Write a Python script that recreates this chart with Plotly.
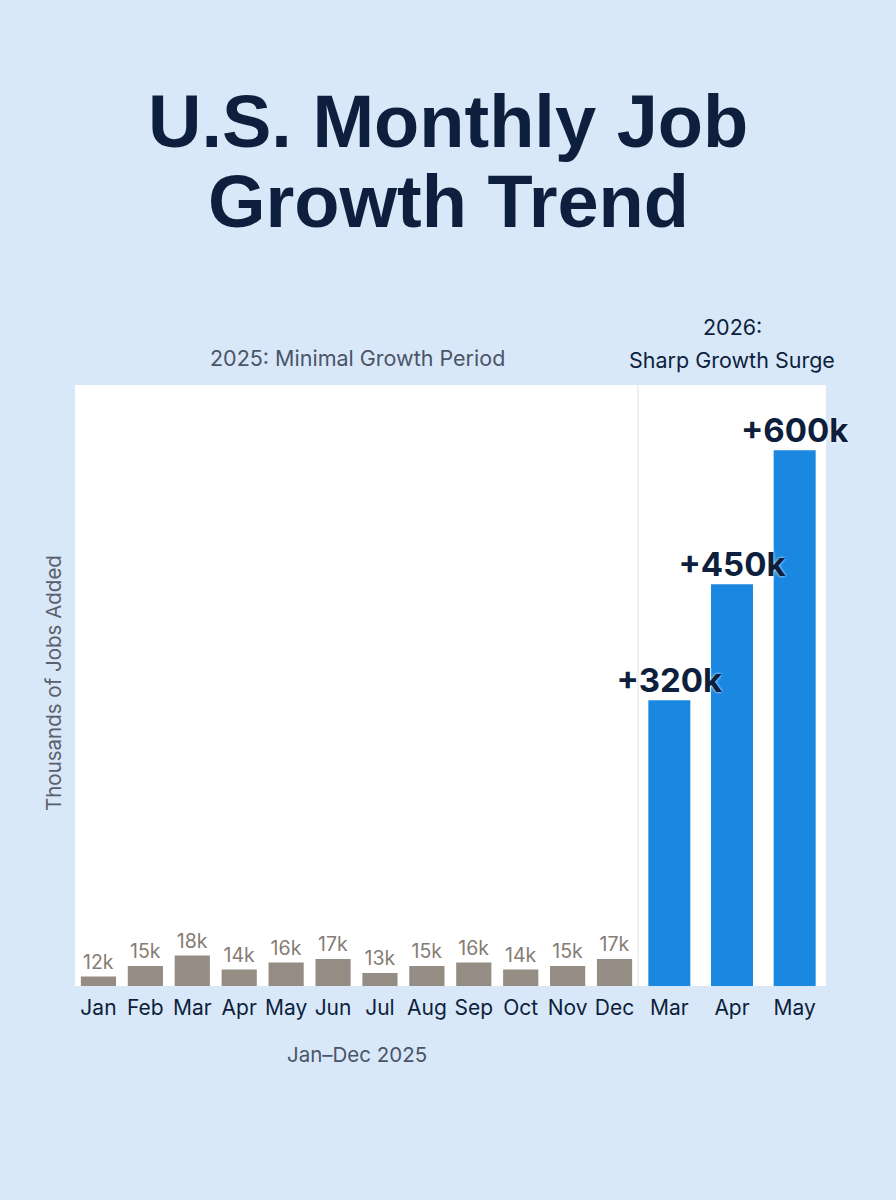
import plotly.graph_objects as go

# ---- data ----
months_2025 = ["Jan", "Feb", "Mar", "Apr", "May", "Jun", "Jul", "Aug", "Sep", "Oct", "Nov", "Dec"]
jobs_2025 = [12, 15, 18, 14, 16, 17, 13, 15, 16, 14, 15, 17]
months_2026 = ["Mar", "Apr", "May"]
jobs_2026 = [320, 450, 600]
labels_2025 = [f"{v}k" for v in jobs_2025]
labels_2026 = [f"+{v}k" for v in jobs_2026]

# ---- layout geometry (pixels) ----
W, H = 896, 1200
L, R, T, B = 75, 826, 385, 986
split_px = 638
pw, ph = R - L, B - T
split = (split_px - L) / pw

def px(x):
    return (x - L) / pw

def py(y):
    return (B - y) / ph

NAVY = "#0d1f3c"
GRAY_TXT = "#4a5568"
FONT = "Inter, Roboto, sans-serif"
TFONT = "Liberation Sans, Arial, sans-serif"

fig = go.Figure()

fig.add_trace(go.Bar(
    x=months_2025, y=jobs_2025, xaxis="x", yaxis="y",
    marker=dict(color="#958d84", line=dict(width=0)),
    width=0.75,
    text=labels_2025, textposition="outside", cliponaxis=False,
    constraintext="none",
    textfont=dict(family=FONT, size=19.5, color="#857c73"),
    hoverinfo="skip", showlegend=False,
))

fig.add_trace(go.Bar(
    x=months_2026, y=jobs_2026, xaxis="x2", yaxis="y2",
    marker=dict(color="#1a87e0", line=dict(width=0)),
    width=0.67,
    hoverinfo="skip", showlegend=False,
))

# value labels for 2026 drawn on top of all bars
fig.add_trace(go.Scatter(
    x=months_2026, y=jobs_2026, xaxis="x2", yaxis="y2",
    mode="text", text=labels_2026, textposition="top center", cliponaxis=False,
    textfont=dict(family=FONT, size=33, color=NAVY, weight="bold",
                  shadow="0px 0px 3px #ffffff"),
    hoverinfo="skip", showlegend=False,
))

axis_common = dict(showgrid=False, zeroline=False, showline=False, ticks="",
                   ticklabelstandoff=7,
                   tickfont=dict(family=FONT, size=21, color=NAVY))

fig.update_layout(
    width=W, height=H,
    margin=dict(l=L, r=W - R, t=T, b=H - B, pad=0),
    paper_bgcolor="#d9e8f8",
    plot_bgcolor="#ffffff",
    xaxis=dict(domain=[0, split], type="category", **axis_common),
    xaxis2=dict(domain=[split, 1], type="category", anchor="y2", **axis_common),
    yaxis=dict(range=[9.3, 9.3 + ph / 3.5], visible=False, showgrid=False),
    yaxis2=dict(range=[0, ph / 0.893], visible=False, showgrid=False,
                overlaying="y", anchor="x2"),
    shapes=[dict(type="line", xref="paper", yref="paper", x0=split, x1=split,
                 y0=0, y1=1, line=dict(color="#e2e2e2", width=1))],
    annotations=[
        dict(text="U.S. Monthly Job", xref="paper", yref="paper",
             x=px(448), y=py(122), xanchor="center", yanchor="middle", showarrow=False,
             font=dict(family=TFONT, size=74, color=NAVY, weight="bold")),
        dict(text="Growth Trend", xref="paper", yref="paper",
             x=px(448), y=py(201), xanchor="center", yanchor="middle", showarrow=False,
             font=dict(family=TFONT, size=74, color=NAVY, weight="bold")),
        dict(text="2025: Minimal Growth Period", xref="paper", yref="paper",
             x=px(357), y=py(358), xanchor="center", yanchor="middle", showarrow=False,
             font=dict(family=FONT, size=21.5, color=GRAY_TXT)),
        dict(text="2026:", xref="paper", yref="paper",
             x=px(732), y=py(327), xanchor="center", yanchor="middle", showarrow=False,
             font=dict(family=FONT, size=21.5, color=NAVY)),
        dict(text="Sharp Growth Surge", xref="paper", yref="paper",
             x=px(732), y=py(360), xanchor="center", yanchor="middle", showarrow=False,
             font=dict(family=FONT, size=21.5, color=NAVY)),
        dict(text="Jan–Dec 2025", xref="paper", yref="paper",
             x=px(357), y=py(1054), xanchor="center", yanchor="middle", showarrow=False,
             font=dict(family=FONT, size=20.5, color=GRAY_TXT)),
        dict(text="Thousands of Jobs Added", xref="paper", yref="paper",
             x=px(53), y=py(683), xanchor="center", yanchor="middle", showarrow=False,
             textangle=-90, font=dict(family=FONT, size=20.5, color="#5a606b")),
    ],
)

fig.write_html("out.html")
